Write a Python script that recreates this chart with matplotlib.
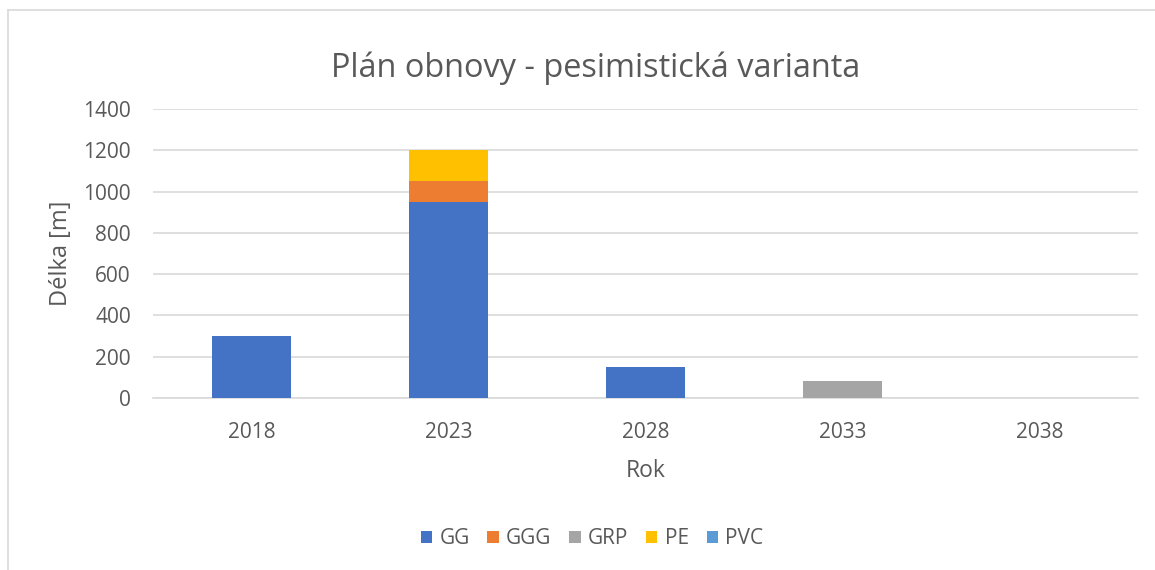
import numpy as np
import matplotlib.pyplot as plt
from matplotlib.lines import Line2D

plt.rcParams['font.family'] = ['Open Sans', 'DejaVu Sans']

years = ['2018', '2023', '2028', '2033', '2038']
materials = ['GG', 'GGG', 'GRP', 'PE', 'PVC']
GG = [300, 950, 150, 0, 0]
GGG = [0, 100, 0, 0, 0]
GRP = [0, 0, 0, 80, 0]
PE = [0, 150, 0, 0, 0]
PVC = [0, 0, 0, 0, 0]
colors = ['#4472C4', '#ED7D31', '#A5A5A5', '#FFC000', '#5B9BD5']

txt = '#595959'

fig = plt.figure(figsize=(11.55, 5.7), dpi=100)
ax = fig.add_axes([153/1155, 1 - 398/570, 985/1155, 289/570])

x = np.arange(len(years))
bottom = np.zeros(len(years))
for name, vals, c in zip(materials, [GG, GGG, GRP, PE, PVC], colors):
    ax.bar(x, vals, 0.4, bottom=bottom, color=c, label=name, zorder=3)
    bottom += np.array(vals)

ax.set_xlim(-0.5, 4.5)
ax.set_ylim(0, 1400)
ax.set_yticks(np.arange(0, 1401, 200))
ax.set_xticks(x)
ax.set_xticklabels(years)
ax.grid(axis='y', color='#D9D9D9', lw=1.2, zorder=0)
for s in ['top', 'right', 'left']:
    ax.spines[s].set_visible(False)
ax.spines['bottom'].set_color('#D9D9D9')
ax.spines['bottom'].set_linewidth(1.2)
ax.tick_params(length=0, labelsize=15, colors=txt)
ax.tick_params(axis='x', pad=17)
ax.tick_params(axis='y', pad=16)

ax.set_xlabel('Rok', fontsize=16.5, color=txt, labelpad=12)
ax.set_ylabel('Délka [m]', fontsize=17, color=txt, labelpad=7)
fig.text(596/1155, 1 - 68/570, 'Plán obnovy - pesimistická varianta', ha='center', va='center',
         fontsize=23.4, color=txt)

fig.legend(*ax.get_legend_handles_labels(), loc='center',
           bbox_to_anchor=(592/1155, 1 - 539/570), ncol=5, frameon=False,
           fontsize=15, labelcolor=txt, handlelength=0.55, handleheight=0.55,
           handletextpad=0.35, columnspacing=0.85)

# chart border (left and top only visible)
fig.add_artist(Line2D([8/1155, 8/1155], [0, 1 - 10/570], color='#D9D9D9', lw=1.2))
fig.add_artist(Line2D([8/1155, 1], [1 - 10/570, 1 - 10/570], color='#D9D9D9', lw=1.2))

fig.savefig('out.png', dpi=100)
